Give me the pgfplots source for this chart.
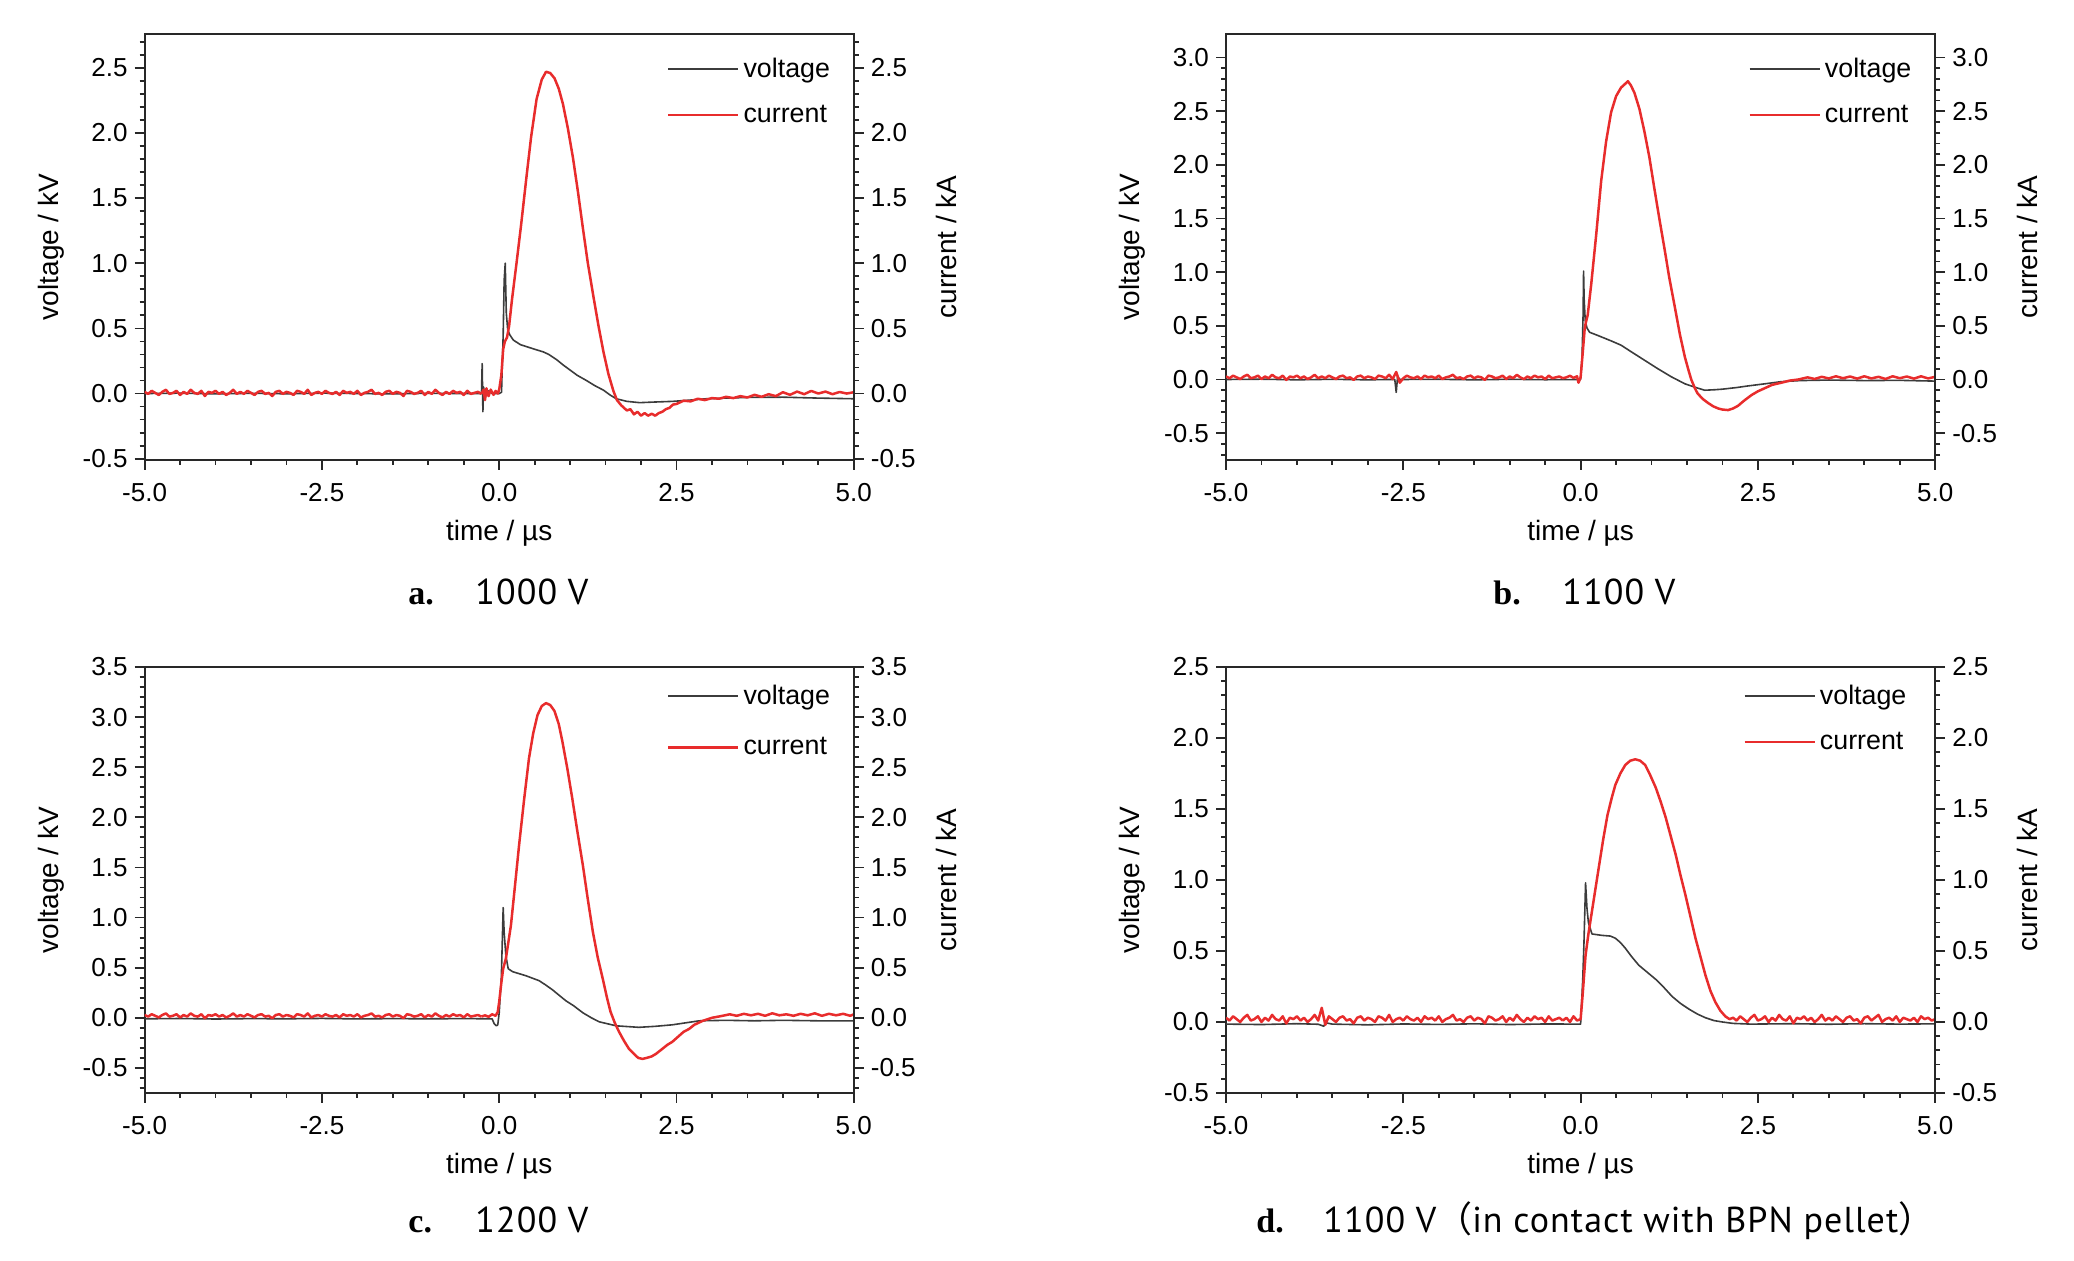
\documentclass[border=0pt]{standalone}
\usepackage{fontspec}
\setmainfont{Liberation Sans}
\newfontfamily\seriffont{Liberation Serif}
\newfontfamily\capfont{PT Sans}[LetterSpace=3]
\newfontfamily\cjk{Noto Sans CJK SC}
\usepackage{pgfplots}
\pgfplotsset{compat=1.18}
\usepackage{pgfplotstable}
\definecolor{cur}{RGB}{232,44,44}
\definecolor{vol}{RGB}{60,60,60}
\definecolor{axc}{RGB}{40,40,40}

\pgfplotstableread{
t a b c d
-5.00 0.013 0.028 0.028 0.03
-4.95 -0.003 0.012 0.012 0.01
-4.90 0.021 0.036 0.036 0.04
-4.85 0.005 0.02 0.02 0.02
-4.80 -0.011 0.004 0.004 0.0
-4.75 0.013 0.028 0.028 0.03
-4.70 0.029 0.044 0.044 0.05
-4.65 -0.003 0.012 0.012 0.01
-4.60 0.005 0.02 0.02 0.02
-4.55 0.021 0.036 0.036 0.04
-4.50 -0.011 0.004 0.004 0.0
-4.45 0.013 0.028 0.028 0.03
-4.40 -0.003 0.012 0.012 0.01
-4.35 0.029 0.044 0.044 0.05
-4.30 0.005 0.02 0.02 0.02
-4.25 -0.003 0.012 0.012 0.01
-4.20 0.021 0.036 0.036 0.04
-4.15 -0.019 -0.004 -0.004 -0.01
-4.10 0.013 0.028 0.028 0.03
-4.05 0.005 0.02 0.02 0.02
-4.00 0.021 0.036 0.036 0.04
-3.95 -0.003 0.012 0.012 0.01
-3.90 0.013 0.028 0.028 0.03
-3.85 -0.011 0.004 0.004 0.0
-3.80 0.005 0.02 0.02 0.02
-3.75 0.029 0.044 0.044 0.05
-3.70 -0.003 0.012 0.012 0.01
-3.65 0.013 0.028 0.028 0.10
-3.60 -0.003 0.012 0.012 -0.02
-3.55 0.021 0.036 0.036 0.04
-3.50 0.005 0.02 0.02 0.02
-3.45 -0.011 0.004 0.004 0.0
-3.40 0.013 0.028 0.028 0.03
-3.35 0.021 0.036 0.036 0.04
-3.30 -0.003 0.012 0.012 0.01
-3.25 0.005 0.02 0.02 0.02
-3.20 -0.019 -0.004 -0.004 -0.01
-3.15 0.013 0.028 0.028 0.03
-3.10 0.021 0.036 0.036 0.04
-3.05 -0.003 0.012 0.012 0.01
-3.00 0.013 0.028 0.028 0.03
-2.95 0.005 0.02 0.02 0.02
-2.90 -0.011 0.004 0.004 0.0
-2.85 0.021 0.036 0.036 0.04
-2.80 0.013 0.028 0.028 0.03
-2.75 -0.003 0.012 0.012 0.01
-2.70 0.029 0.044 0.044 0.05
-2.65 -0.011 0.004 0.004 0.0
-2.60 0.005 0.07 0.02 0.02
-2.55 0.013 -0.03 0.028 0.03
-2.50 -0.003 0.012 0.012 0.01
-2.45 0.021 0.036 0.036 0.04
-2.40 0.005 0.02 0.02 0.02
-2.35 -0.003 0.012 0.012 0.01
-2.30 0.013 0.028 0.028 0.03
-2.25 -0.011 0.004 0.004 0.0
-2.20 0.021 0.036 0.036 0.04
-2.15 0.005 0.02 0.02 0.02
-2.10 0.013 0.028 0.028 0.03
-2.05 -0.003 0.012 0.012 0.01
-2.00 0.021 0.036 0.036 0.04
-1.95 -0.011 0.004 0.004 0.0
-1.90 0.005 0.02 0.02 0.02
-1.85 0.013 0.028 0.028 0.03
-1.80 0.029 0.044 0.044 0.05
-1.75 -0.003 0.012 0.012 0.01
-1.70 0.005 0.02 0.02 0.02
-1.65 -0.011 0.004 0.004 0.0
-1.60 0.013 0.028 0.028 0.03
-1.55 0.021 0.036 0.036 0.04
-1.50 -0.003 0.012 0.012 0.01
-1.45 0.013 0.028 0.028 0.03
-1.40 0.005 0.02 0.02 0.02
-1.35 -0.019 -0.004 -0.004 -0.01
-1.30 0.021 0.036 0.036 0.04
-1.25 0.013 0.028 0.028 0.03
-1.20 -0.003 0.012 0.012 0.01
-1.15 0.005 0.02 0.02 0.02
-1.10 0.021 0.036 0.036 0.04
-1.05 -0.011 0.004 0.004 0.0
-1.00 0.013 0.028 0.028 0.03
-0.95 -0.003 0.012 0.012 0.01
-0.90 0.029 0.044 0.044 0.05
-0.85 0.005 0.02 0.02 0.02
-0.80 -0.011 0.004 0.004 0.0
-0.75 0.013 0.028 0.028 0.03
-0.70 -0.003 0.012 0.012 0.01
-0.65 0.021 0.036 0.036 0.04
-0.60 0.005 0.02 0.02 0.02
-0.55 0.013 0.028 0.028 0.03
-0.50 -0.011 0.004 0.004 0.0
-0.45 0.021 0.036 0.036 0.04
-0.40 -0.003 0.012 0.012 0.01
-0.35 0.005 0.02 0.02 0.02
-0.30 0.013 0.028 0.028 0.03
-0.25 -0.003 0.012 0.012 0.01
}\bl

\pgfplotsset{
  panel/.style={
    scale only axis, width=354.6pt, height=213pt,
    xmin=-5, xmax=5, xtick={-5,-2.5,0,2.5,5},
    minor x tick num=4, ytick distance=0.5, minor y tick num=4,
    tick align=outside, major tick length=5pt, minor tick length=2.5pt,
    axis line style={axc, line width=1pt},
    tick style={axc, line width=0.9pt},
    tick label style={font=\fontsize{13}{15}\selectfont},
    xticklabel style={yshift=-3pt},
    label style={font=\fontsize{14}{16}\selectfont},
    /pgf/number format/fixed, /pgf/number format/fixed zerofill,
    /pgf/number format/precision=1, /pgf/number format/assume math mode=true,
  },
  mainp/.style={panel, xtick pos=left, ytick pos=left,
    xlabel={time / µs}, ylabel={voltage / kV},
    xlabel style={at={(axis description cs:0.5,-0.171)}, anchor=center},
    ylabel style={at={(axis description cs:-0.132,0.5)}, anchor=center},
    legend style={draw=none, fill=none, at={(rel axis cs:1,1)}, anchor=north east,
      xshift=-6.7pt, yshift=-7.7pt, font=\fontsize{13.4}{16}\selectfont, row sep=8.3pt},
    legend cell align=left,
    legend image code/.code={\draw[##1] (0pt,0pt) -- (35pt,0pt);},
  },
  rightp/.style={panel, axis x line=none, axis y line*=right,
    ylabel={current / kA},
    ylabel style={at={(axis description cs:1.13,0.5)}, anchor=center},
  },
  vol/.style={draw=vol, line width=0.8pt, line join=round},
  cur/.style={draw=cur, line width=1.25pt, line join=round},
}

\begin{document}
\begin{tikzpicture}
\path[use as bounding box] (0,0) rectangle (1037pt,630.5pt);

% ---------------- panel a ----------------
\begin{axis}[mainp, at={(72.3pt,400.5pt)}, anchor=south west, ymin=-0.51, ymax=2.76]
\addplot[vol] coordinates {(-5,0.0) (-4.5,0.003) (-4,-0.003) (-3.5,0.002) (-3,-0.002) (-2.5,0.003) (-2,0) (-1.5,-0.003) (-1,0.002) (-0.5,0) (-0.25,0.0) (-0.24,0.23) (-0.23,-0.14) (-0.22,0.05) (-0.2,-0.03) (-0.15,0.02) (-0.1,0.0) (0.0,0.0) (0.033,0.01) (0.056,0.45) (0.07,0.87) (0.085,1.0) (0.1,0.62) (0.12,0.49) (0.15,0.45) (0.2,0.41) (0.3,0.375) (0.386,0.36) (0.5,0.34) (0.62,0.32) (0.7,0.30) (0.81,0.26) (0.9,0.22) (1.0,0.18) (1.1,0.14) (1.23,0.10) (1.35,0.06) (1.47,0.026) (1.56,-0.01) (1.65,-0.04) (1.8,-0.06) (1.98,-0.07) (2.2,-0.065) (2.45,-0.06) (2.7,-0.05) (2.92,-0.04) (3.2,-0.035) (3.5,-0.03) (4.0,-0.028) (4.5,-0.035) (5.0,-0.04)};
\addplot[cur] table[x=t,y=a] {\bl};
\addplot[cur, forget plot] coordinates {(-0.25,-0.003) (-0.22,0.03) (-0.2,-0.05) (-0.18,0.04) (-0.15,-0.02) (-0.12,0.03) (-0.08,-0.01) (-0.05,0.02) (-0.02,0.0) (0.0,0.03) (0.03,0.14) (0.056,0.34) (0.08,0.40) (0.11,0.43) (0.14,0.52) (0.18,0.72) (0.244,1.0) (0.31,1.3) (0.386,1.67) (0.45,1.97) (0.527,2.26) (0.60,2.41) (0.66,2.47) (0.72,2.46) (0.78,2.42) (0.84,2.34) (0.90,2.22) (0.97,2.03) (1.04,1.81) (1.11,1.55) (1.18,1.27) (1.25,1.0) (1.33,0.74) (1.40,0.52) (1.47,0.32) (1.54,0.15) (1.61,0.02) (1.66,-0.05) (1.72,-0.09) (1.80,-0.13) (1.85,-0.12) (1.9,-0.16) (1.95,-0.14) (2.0,-0.17) (2.05,-0.15) (2.1,-0.17) (2.15,-0.155) (2.2,-0.17) (2.25,-0.15) (2.3,-0.14) (2.35,-0.12) (2.4,-0.11) (2.45,-0.085) (2.5,-0.08) (2.6,-0.055) (2.7,-0.06) (2.8,-0.04) (2.9,-0.05) (3.0,-0.035) (3.1,-0.04) (3.2,-0.025) (3.3,-0.035) (3.4,-0.02) (3.5,-0.03) (3.6,-0.01) (3.7,-0.025) (3.8,-0.005) (3.9,-0.02) (4.0,0.01) (4.1,-0.01) (4.2,0.015) (4.3,-0.005) (4.4,0.02) (4.5,0.0) (4.6,0.015) (4.7,-0.005) (4.8,0.012) (4.9,0.0) (5.0,0.01)};
\legend{voltage, current}
\end{axis}
\begin{axis}[rightp, at={(72.3pt,400.5pt)}, anchor=south west, ymin=-0.51, ymax=2.76]
\end{axis}

% ---------------- panel b ----------------
\begin{axis}[mainp, at={(613pt,400.5pt)}, anchor=south west, ymin=-0.75, ymax=3.22]
\addplot[vol] coordinates {(-5,0.0) (-4.5,0.003) (-4,-0.003) (-3.5,0.002) (-3,-0.003) (-2.7,0.0) (-2.62,0.0) (-2.6,-0.12) (-2.58,0.03) (-2.55,0.0) (-2,0.002) (-1.5,-0.003) (-1,0.002) (-0.5,-0.002) (0,0.0) (0.02,0.2) (0.035,0.6) (0.042,1.01) (0.05,0.75) (0.065,0.55) (0.09,0.48) (0.127,0.44) (0.244,0.41) (0.43,0.36) (0.57,0.32) (0.71,0.26) (0.9,0.18) (1.09,0.10) (1.28,0.025) (1.47,-0.04) (1.65,-0.08) (1.75,-0.1) (1.9,-0.095) (2.0,-0.09) (2.2,-0.075) (2.36,-0.06) (2.6,-0.04) (2.83,-0.02) (3.1,-0.01) (3.5,-0.005) (4,-0.01) (4.5,-0.008) (5,-0.015)};
\addplot[cur] table[x=t,y=b] {\bl};
\addplot[cur, forget plot] coordinates {(-0.25,0.012) (-0.2,0.02) (-0.15,0.035) (-0.1,0.015) (-0.05,0.03) (-0.03,-0.03) (0.0,0.02) (0.03,0.25) (0.056,0.46) (0.07,0.52) (0.1,0.6) (0.15,0.89) (0.22,1.35) (0.29,1.85) (0.36,2.22) (0.43,2.49) (0.5,2.64) (0.57,2.72) (0.62,2.75) (0.667,2.78) (0.71,2.74) (0.76,2.67) (0.83,2.52) (0.9,2.31) (0.97,2.07) (1.04,1.78) (1.11,1.5) (1.18,1.23) (1.25,0.95) (1.33,0.67) (1.4,0.42) (1.47,0.21) (1.52,0.09) (1.56,0.0) (1.61,-0.08) (1.65,-0.13) (1.72,-0.18) (1.8,-0.22) (1.87,-0.25) (1.94,-0.27) (2.0,-0.28) (2.08,-0.285) (2.15,-0.27) (2.22,-0.245) (2.3,-0.2) (2.41,-0.145) (2.5,-0.11) (2.6,-0.08) (2.7,-0.05) (2.83,-0.03) (2.95,-0.01) (3.07,0.0) (3.2,0.02) (3.3,0.005) (3.4,0.025) (3.5,0.01) (3.6,0.03) (3.7,0.012) (3.8,0.028) (3.9,0.008) (4.0,0.03) (4.1,0.01) (4.2,0.025) (4.3,0.005) (4.4,0.03) (4.5,0.012) (4.6,0.028) (4.7,0.008) (4.8,0.03) (4.9,0.01) (5.0,0.025)};
\legend{voltage, current}
\end{axis}
\begin{axis}[rightp, at={(613pt,400.5pt)}, anchor=south west, ymin=-0.75, ymax=3.22]
\end{axis}

% ---------------- panel c ----------------
\begin{axis}[mainp, at={(72.3pt,84pt)}, anchor=south west, ymin=-0.75, ymax=3.5,
  legend style={yshift=3pt, row sep=11pt}]
\addplot[vol] coordinates {(-5,-0.01) (-4.5,-0.007) (-4,-0.012) (-3.5,-0.008) (-3,-0.01) (-2.5,-0.006) (-2,-0.011) (-1.5,-0.008) (-1,-0.01) (-0.5,-0.008) (-0.1,-0.01) (-0.07,-0.06) (-0.04,-0.08) (-0.02,-0.07) (0,0.05) (0.03,0.4) (0.056,1.1) (0.07,0.85) (0.094,0.62) (0.127,0.49) (0.19,0.46) (0.376,0.42) (0.564,0.37) (0.65,0.33) (0.75,0.28) (0.94,0.17) (1.05,0.12) (1.18,0.05) (1.3,0.0) (1.41,-0.04) (1.65,-0.08) (1.97,-0.095) (2.2,-0.085) (2.44,-0.07) (2.82,-0.03) (3.2,-0.025) (3.6,-0.03) (4,-0.025) (4.5,-0.03) (5,-0.03)};
\addplot[cur] table[x=t,y=c] {\bl};
\addplot[cur, forget plot] coordinates {(-0.25,0.012) (-0.2,0.025) (-0.15,0.01) (-0.1,0.035) (-0.05,0.02) (-0.02,0.06) (0.0,0.16) (0.03,0.35) (0.056,0.49) (0.094,0.59) (0.165,0.92) (0.22,1.3) (0.28,1.72) (0.35,2.17) (0.42,2.59) (0.48,2.84) (0.54,3.02) (0.6,3.11) (0.66,3.14) (0.72,3.12) (0.78,3.06) (0.84,2.93) (0.89,2.76) (0.96,2.49) (1.03,2.19) (1.1,1.87) (1.18,1.52) (1.25,1.18) (1.32,0.86) (1.39,0.6) (1.46,0.39) (1.52,0.2) (1.57,0.06) (1.63,-0.05) (1.69,-0.14) (1.76,-0.23) (1.83,-0.31) (1.9,-0.36) (1.96,-0.4) (2.02,-0.41) (2.08,-0.4) (2.15,-0.385) (2.21,-0.36) (2.3,-0.31) (2.37,-0.27) (2.44,-0.24) (2.52,-0.19) (2.6,-0.14) (2.68,-0.11) (2.75,-0.07) (2.87,-0.03) (3.0,0.0) (3.15,0.02) (3.25,0.035) (3.35,0.02) (3.45,0.04) (3.55,0.025) (3.65,0.04) (3.75,0.02) (3.85,0.045) (3.95,0.025) (4.05,0.035) (4.15,0.02) (4.25,0.04) (4.35,0.025) (4.45,0.045) (4.55,0.02) (4.65,0.04) (4.75,0.025) (4.85,0.04) (4.95,0.02) (5.0,0.035)};
\legend{voltage, current}
\end{axis}
\begin{axis}[rightp, at={(72.3pt,84pt)}, anchor=south west, ymin=-0.75, ymax=3.5]
\end{axis}

% ---------------- panel d ----------------
\begin{axis}[mainp, at={(613pt,84pt)}, anchor=south west, ymin=-0.5, ymax=2.5,
  legend style={xshift=-2.5pt, yshift=3pt}]
\addplot[vol] coordinates {(-5,-0.015) (-4.5,-0.018) (-4,-0.012) (-3.7,-0.016) (-3.62,-0.03) (-3.6,-0.005) (-3.5,-0.015) (-3,-0.02) (-2.5,-0.014) (-2,-0.017) (-1.5,-0.013) (-1,-0.018) (-0.5,-0.014) (0,-0.015) (0.03,0.3) (0.047,0.55) (0.07,0.98) (0.09,0.8) (0.11,0.7) (0.16,0.62) (0.3,0.61) (0.42,0.605) (0.49,0.59) (0.56,0.56) (0.63,0.52) (0.72,0.46) (0.82,0.40) (0.94,0.35) (1.06,0.30) (1.18,0.24) (1.29,0.18) (1.41,0.13) (1.53,0.09) (1.65,0.055) (1.76,0.03) (1.88,0.01) (2.0,0.0) (2.15,-0.01) (2.4,-0.015) (3,-0.012) (3.5,-0.016) (4,-0.012) (4.5,-0.015) (5,-0.013)};
\addplot[cur] table[x=t,y=d] {\bl};
\addplot[cur, forget plot] coordinates {(-0.25,0.01) (-0.2,0.03) (-0.15,0.0) (-0.1,0.04) (-0.05,0.01) (0.0,0.02) (0.03,0.2) (0.07,0.47) (0.11,0.62) (0.16,0.78) (0.21,0.94) (0.26,1.1) (0.32,1.29) (0.38,1.46) (0.44,1.58) (0.49,1.67) (0.56,1.75) (0.63,1.81) (0.7,1.84) (0.77,1.85) (0.84,1.84) (0.91,1.81) (0.98,1.74) (1.06,1.65) (1.13,1.55) (1.2,1.44) (1.27,1.31) (1.34,1.18) (1.41,1.03) (1.48,0.89) (1.55,0.74) (1.62,0.59) (1.69,0.46) (1.76,0.33) (1.83,0.22) (1.9,0.14) (1.97,0.08) (2.04,0.04) (2.1,0.02) (2.15,0.03) (2.2,0.01) (2.25,0.04) (2.3,0.02) (2.35,0.0) (2.4,0.03) (2.45,0.05) (2.5,0.01) (2.55,0.02) (2.6,0.04) (2.65,0.0) (2.7,0.03) (2.75,0.01) (2.8,0.05) (2.85,0.02) (2.9,0.01) (2.95,0.04) (3.0,-0.01) (3.05,0.03) (3.1,0.02) (3.15,0.04) (3.2,0.01) (3.25,0.03) (3.3,0.0) (3.35,0.02) (3.4,0.05) (3.45,0.01) (3.5,0.03) (3.55,0.01) (3.6,0.04) (3.65,0.02) (3.7,0.0) (3.75,0.03) (3.8,0.04) (3.85,0.01) (3.9,0.02) (3.95,-0.01) (4.0,0.03) (4.05,0.04) (4.1,0.01) (4.15,0.03) (4.2,0.05) (4.25,0.0) (4.3,0.02) (4.35,0.03) (4.4,0.01) (4.45,0.04) (4.5,0.0) (4.55,0.03) (4.6,0.02) (4.65,0.01) (4.7,0.03) (4.75,0.0) (4.8,0.04) (4.85,0.02) (4.9,0.03) (4.95,0.01) (5.0,0.02)};
\legend{voltage, current}
\end{axis}
\begin{axis}[rightp, at={(613pt,84pt)}, anchor=south west, ymin=-0.5, ymax=2.5]
\end{axis}

% ---------------- captions ----------------
\node[anchor=base west, inner sep=0pt] at (204pt,328pt) {\seriffont\bfseries\fontsize{17}{20}\selectfont a.};
\node[anchor=base west, inner sep=0pt] at (237.5pt,328pt) {\capfont\fontsize{18}{21}\selectfont 1000 V};
\node[anchor=base west, inner sep=0pt] at (746.5pt,328pt) {\seriffont\bfseries\fontsize{17}{20}\selectfont b.};
\node[anchor=base west, inner sep=0pt] at (781pt,328pt) {\capfont\fontsize{18}{21}\selectfont 1100 V};
\node[anchor=base west, inner sep=0pt] at (204pt,14pt) {\seriffont\bfseries\fontsize{17}{20}\selectfont c.};
\node[anchor=base west, inner sep=0pt] at (237.5pt,14pt) {\capfont\fontsize{18}{21}\selectfont 1200 V};
\node[anchor=base west, inner sep=0pt] at (628pt,14pt) {\seriffont\bfseries\fontsize{17}{20}\selectfont d.};
\node[anchor=base west, inner sep=0pt] at (661.5pt,14pt) {\capfont\fontsize{18}{21}\selectfont 1100 V{\cjk\fontsize{18}{21}\selectfont （}in contact with BPN pellet{\cjk\fontsize{18}{21}\selectfont ）}};
\end{tikzpicture}
\end{document}
